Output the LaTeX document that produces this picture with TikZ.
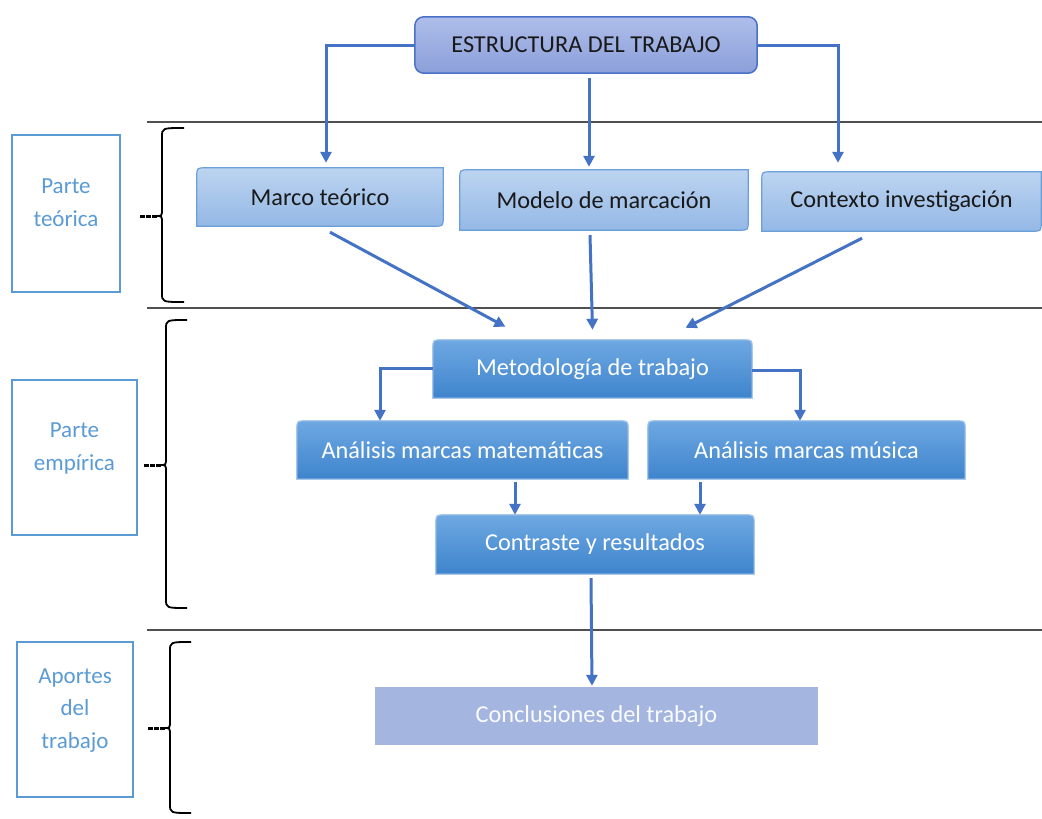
\documentclass[tikz,border=0pt]{standalone}
\usepackage{fontspec}
\setmainfont{Carlito}
\usetikzlibrary{calc,backgrounds,arrows.meta}
\definecolor{arrowblue}{HTML}{4472C4}
\definecolor{lblue}{HTML}{5B9BD5}
\definecolor{estrtop}{HTML}{AEBDEA}
\definecolor{estrbot}{HTML}{8B9FD9}
\definecolor{estredge}{HTML}{4A70C8}
\definecolor{rowtop}{HTML}{BCD4F0}
\definecolor{rowbot}{HTML}{94B8E6}
\definecolor{rowedge}{HTML}{6A9FDA}
\definecolor{darktop}{HTML}{6EA8E2}
\definecolor{darkbot}{HTML}{3E84CC}
\definecolor{darkedge}{HTML}{A9C8EC}
\definecolor{conclfill}{HTML}{A4B6E0}
\definecolor{rulegrey}{HTML}{505050}
\newcommand\topbox[2]{\path[#2] (#1.south west) -- ($(#1.north west)+(0,9)$) .. controls (#1.north west) .. ($(#1.north west)+(9,0)$) -- ($(#1.north east)+(-9,0)$) .. controls (#1.north east) .. ($(#1.north east)+(0,9)$) -- (#1.south east) -- cycle;}
\newcommand\diagbox[2]{\path[#2] (#1.south west) -- ($(#1.north west)+(0,9)$) .. controls (#1.north west) .. ($(#1.north west)+(9,0)$) -- (#1.north east) -- ($(#1.south east)+(0,-9)$) .. controls (#1.south east) .. ($(#1.south east)+(-9,0)$) -- cycle;}
\newcommand\bracedraw[5]{%
  \draw[bracestyle] (#5,#2) .. controls (#1,#2) .. (#1,#2+9) -- (#1,#3-7) .. controls (#1,#3) .. (#1-6,#3) .. controls (#1,#3) .. (#1,#3+7) -- (#1,#4-9) .. controls (#1,#4) .. (#5,#4);
  \draw[line width=3pt, dash pattern=on 5pt off 1.2pt] (#1-22,#3) -- (#1-5,#3);}
\begin{document}
\begin{tikzpicture}[x=1pt,y=-1pt,
  txt/.style={inner sep=0pt, font=\fontsize{24.3}{28}\selectfont},
  boxsize/.style 2 args={minimum width=#1, minimum height=#2},
  sidelabel/.style={txt, draw=lblue, line width=1.6pt, text=lblue, align=center, font=\fontsize{23}{32.5}\selectfont, text depth=22pt},
  arr/.style={draw=arrowblue, line width=3pt, -{Triangle[length=11pt,width=11pt]}},
  bracestyle/.style={draw=black, line width=1.8pt},
  hrule/.style={draw=rulegrey, line width=2pt},
  estrstyle/.style={top color=estrtop, bottom color=estrbot, draw=estredge, line width=1.5pt},
  rowstyle/.style={top color=rowtop, bottom color=rowbot, draw=rowedge, line width=1.2pt},
  darkstyle/.style={top color=darktop, bottom color=darkbot, draw=darkedge, line width=1.2pt}]
\useasboundingbox (0,0) rectangle (1042,819);

% horizontal rules
\draw[hrule] (147,122) -- (1042,122);
\draw[hrule] (147,308) -- (1042,308);
\draw[hrule] (147,630) -- (1042,630);

% braces
\bracedraw{162}{128}{216}{302}{184}
\bracedraw{166}{320}{465}{608}{187}
\bracedraw{170}{642}{728}{813}{191}

% side labels
\node[sidelabel, boxsize={108}{157}] (pt) at (66,213.5) {Parte\\teórica};
\node[sidelabel, boxsize={125}{155}] (pe) at (74.5,457.5) {Parte\\empírica};
\node[sidelabel, boxsize={116}{155}] (ap) at (75,719.5) {Aportes\\del\\trabajo};

% main nodes
\node[txt, boxsize={342}{56}, text=black!90] (estr) at (586,45) {ESTRUCTURA DEL TRABAJO};
\node[txt, boxsize={246}{58}, text=black!90] (marco) at (320,197) {Marco teórico};
\node[txt, boxsize={288}{60}, text=black!90] (modelo) at (604,200) {Modelo de marcación};
\node[txt, boxsize={279}{59}, text=black!90] (contexto) at (901.5,201.5) {Contexto investigación};
\node[txt, boxsize={319}{58}, text=white] (metod) at (592.5,369) {Metodología de trabajo};
\node[txt, boxsize={331}{58}, text=white] (anmat) at (462.5,450) {Análisis marcas matemáticas};
\node[txt, boxsize={317}{58}, text=white] (anmus) at (806.5,450) {Análisis marcas música};
\node[txt, boxsize={318}{59}, text=white] (contr) at (595,544.5) {Contraste y resultados};
\node[txt, boxsize={443}{58}, text=white!95!conclfill] (concl) at (596.5,716) {Conclusiones del trabajo};

\begin{pgfonlayer}{background}
  \fill[white] (0,0) rectangle (1042,819);
  \path[estrstyle, rounded corners=9pt] (estr.north west) rectangle (estr.south east);
  \diagbox{marco}{rowstyle}
  \diagbox{modelo}{rowstyle}
  \diagbox{contexto}{rowstyle}
  \topbox{metod}{darkstyle}
  \topbox{anmat}{darkstyle}
  \topbox{anmus}{darkstyle}
  \topbox{contr}{darkstyle}
  \fill[conclfill] (concl.north west) rectangle (concl.south east);
\end{pgfonlayer}

% connectors
\draw[arr] (estr.west) -| ($(marco.north)+(6,-5)$);
\draw[arr] ($(estr.south)+(3,5)$) -- ($(modelo.north)+(-15,-3)$);
\draw[arr] (estr.east) -| ($(contexto.north)+(-63.5,-9)$);
\draw[arr] ($(marco.south)+(10,6)$) -- ($(metod.north)+(-87,-13)$);
\draw[arr] ($(modelo.south)+(-14,5)$) -- ($(metod.north)+(0,-10)$);
\draw[arr] ($(contexto.south)+(-39.5,7)$) -- ($(metod.north)+(93,-12)$);
\draw[arr] ($(metod.west)+(0,-1)$) -| ($(anmat.north)+(-82.5,0)$);
\draw[arr] ($(metod.east)+(0,1)$) -| ($(anmus.north)+(-6.5,0)$);
\draw[arr] ($(anmat.south)+(52.5,3)$) -- ($(contr.north)+(-80,0)$);
\draw[arr] ($(anmus.south)+(-106.5,3)$) -- ($(contr.north)+(105,0)$);
\draw[arr] ($(contr.south)+(-4,4)$) -- ($(concl.north)+(-4.5,-1)$);
\end{tikzpicture}
\end{document}
